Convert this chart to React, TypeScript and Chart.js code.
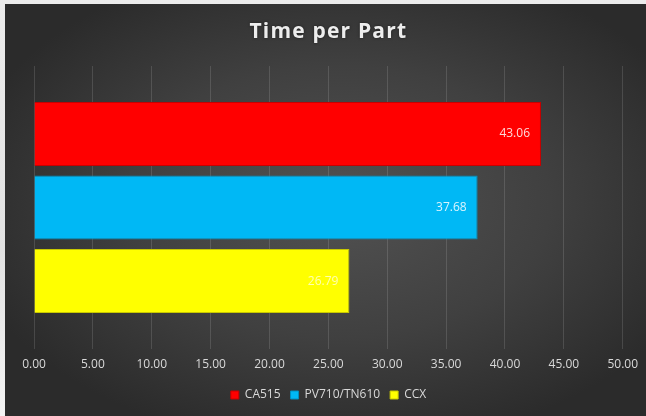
import React, { useEffect, useRef } from 'react';
import { Chart, registerables } from 'chart.js';

Chart.register(...registerables);

const titleText = 'Time per Part';
const categories = ['Time per Part'];
const seriesNames = ['CA515', 'PV710/TN610', 'CCX'];
const ca515Values = [43.06];
const pv710Values = [37.68];
const ccxValues = [26.79];
const xMin = 0;
const xMax = 50;
const xStep = 5;

const FONT = '"Open Sans", "DejaVu Sans", sans-serif';

const titlePlugin = {
  id: 'customTitle',
  afterDraw(chart: any) {
    const { ctx, chartArea } = chart;
    ctx.save();
    ctx.font = `bold 21px ${FONT}`;
    (ctx as any).letterSpacing = '1.2px';
    ctx.fillStyle = '#ededed';
    ctx.textAlign = 'center';
    ctx.textBaseline = 'alphabetic';
    ctx.shadowColor = 'rgba(0,0,0,0.5)';
    ctx.shadowBlur = 3;
    ctx.fillText(titleText, (chartArea.left + chartArea.right) / 2, 38);
    ctx.restore();
  },
};

const valueLabelPlugin = {
  id: 'valueLabels',
  afterDatasetsDraw(chart: any) {
    const { ctx } = chart;
    ctx.save();
    ctx.font = `12px ${FONT}`;
    ctx.textAlign = 'right';
    ctx.textBaseline = 'middle';
    chart.data.datasets.forEach((ds: any, i: number) => {
      const meta = chart.getDatasetMeta(i);
      meta.data.forEach((el: any, j: number) => {
        const v = ds.data[j];
        ctx.fillStyle = i === 2 ? 'rgba(255,255,235,0.75)' : 'rgba(255,255,255,0.85)';
        ctx.fillText(Number(v).toFixed(2), el.x - 11, el.y);
      });
    });
    ctx.restore();
  },
};

export default function App() {
  const canvasRef = useRef<HTMLCanvasElement | null>(null);

  useEffect(() => {
    document.body.style.margin = '0';
    const canvas = canvasRef.current;
    if (!canvas) return;
    const chart = new Chart(canvas, {
      type: 'bar',
      data: {
        labels: categories,
        datasets: [
          {
            label: seriesNames[0],
            data: ca515Values,
            backgroundColor: '#ff0000',
            borderColor: '#c80000',
            borderWidth: 1,
          },
          {
            label: seriesNames[1],
            data: pv710Values,
            backgroundColor: '#00b8f5',
            borderColor: '#008fc0',
            borderWidth: 1,
          },
          {
            label: seriesNames[2],
            data: ccxValues,
            backgroundColor: '#ffff00',
            borderColor: '#c8c800',
            borderWidth: 1,
          },
        ],
      },
      options: {
        indexAxis: 'y',
        animation: false,
        responsive: false,
        maintainAspectRatio: false,
        layout: { padding: { top: 66, left: 34, right: 23, bottom: 5 } },
        datasets: {
          bar: { categoryPercentage: 0.78, barPercentage: 0.87 },
        },
        scales: {
          x: {
            type: 'linear',
            min: xMin,
            max: xMax,
            afterFit: (scale: any) => {
              scale.height = 30;
            },
            ticks: {
              stepSize: xStep,
              padding: 8,
              color: '#d9d9d9',
              font: { family: FONT, size: 12 },
              callback: (v: any) => Number(v).toFixed(2),
            },
            grid: {
              color: 'rgba(255,255,255,0.13)',
              drawTicks: false,
            },
            border: { display: false },
          },
          y: {
            type: 'category',
            display: false,
          },
        },
        plugins: {
          title: { display: false },
          tooltip: { enabled: false },
          legend: {
            position: 'bottom',
            labels: {
              boxWidth: 8,
              boxHeight: 8,
              padding: 10,
              color: '#d9d9d9',
              font: { family: FONT, size: 12 },
            },
          },
        },
      },
      plugins: [titlePlugin, valueLabelPlugin],
    } as any);
    return () => chart.destroy();
  }, []);

  return (
    <div style={{ position: 'relative', width: 646, height: 416, background: 'linear-gradient(180deg, #ececec 0%, #e2e2e2 60%, #f4f4f4 100%)', overflow: 'hidden' }}>
      <div
        style={{
          position: 'absolute',
          left: 5,
          top: 4,
          right: 0,
          bottom: 0,
          background: 'radial-gradient(ellipse 60% 60% at 52% 48%, #525252 0%, #404040 55%, #2b2b2b 100%)',
        }}
      />
      <canvas ref={canvasRef} width={646} height={416} style={{ position: 'absolute', left: 0, top: 0, width: 646, height: 416 }} />
    </div>
  );
}
